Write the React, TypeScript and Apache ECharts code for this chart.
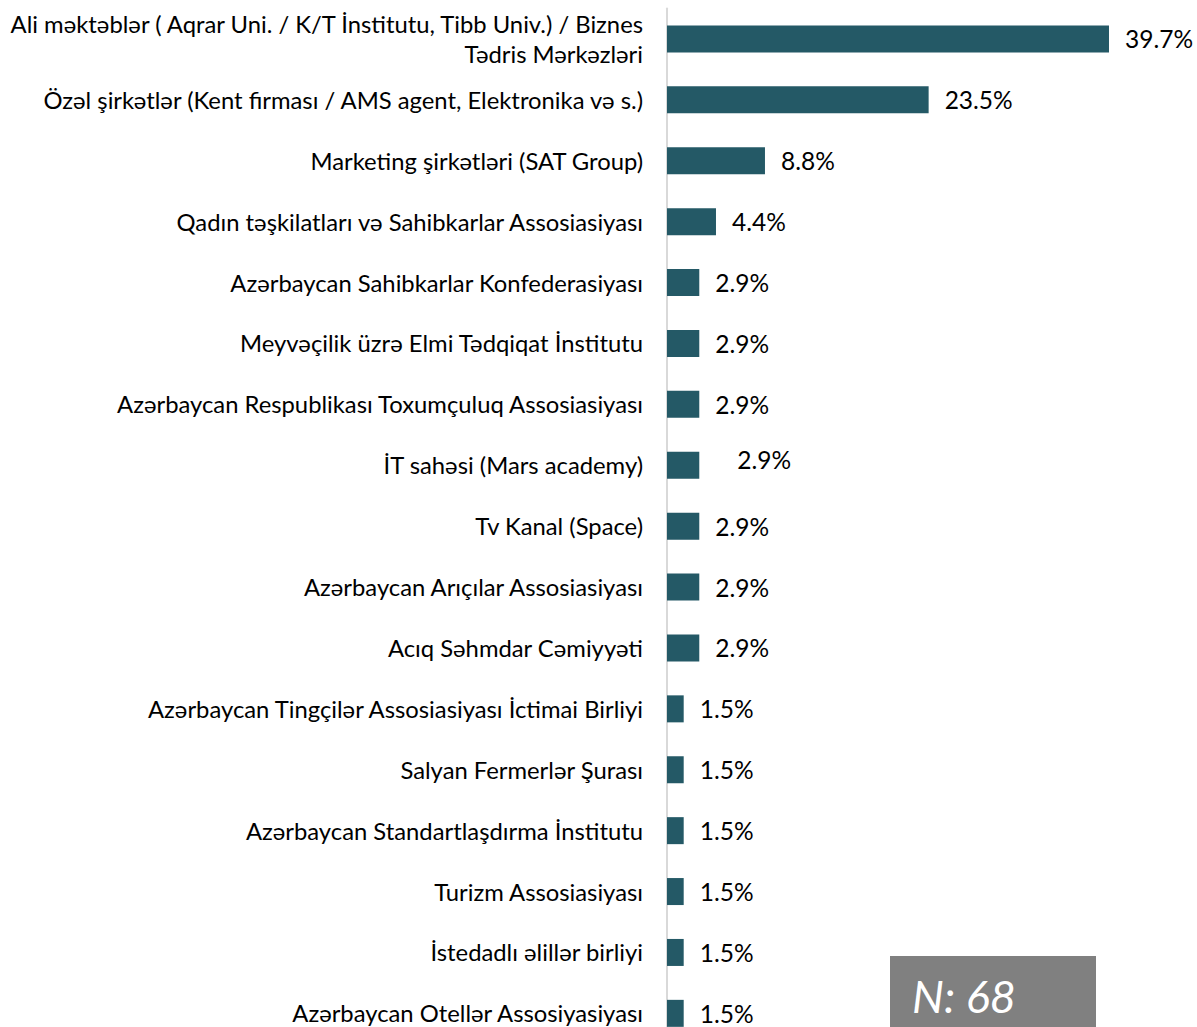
import React, { useEffect, useRef } from "react";
import * as echarts from "echarts";

const categories: string[] = [
  "Ali məktəblər ( Aqrar Uni. / K/T İnstitutu, Tibb Univ.) / Biznes\nTədris Mərkəzləri",
  "Özəl şirkətlər (Kent firması / AMS agent, Elektronika və s.)",
  "Marketing şirkətləri (SAT Group)",
  "Qadın təşkilatları və Sahibkarlar Assosiasiyası",
  "Azərbaycan Sahibkarlar Konfederasiyası",
  "Meyvəçilik üzrə Elmi Tədqiqat İnstitutu",
  "Azərbaycan Respublikası Toxumçuluq Assosiasiyası",
  "İT sahəsi (Mars academy)",
  "Tv Kanal (Space)",
  "Azərbaycan Arıçılar Assosiasiyası",
  "Acıq Səhmdar Cəmiyyəti",
  "Azərbaycan Tingçilər Assosiasiyası İctimai Birliyi",
  "Salyan Fermerlər Şurası",
  "Azərbaycan Standartlaşdırma İnstitutu",
  "Turizm Assosiasiyası",
  "İstedadlı əlillər birliyi",
  "Azərbaycan Otellər Assosiyasiyası",
];

const values: number[] = [39.7, 23.5, 8.8, 4.4, 2.9, 2.9, 2.9, 2.9, 2.9, 2.9, 2.9, 1.5, 1.5, 1.5, 1.5, 1.5, 1.5];

const sampleLabel = "N: 68";

const FONT = "Lato";

export default function App() {
  const ref = useRef<HTMLDivElement>(null);

  useEffect(() => {
    document.body.style.margin = "0";
    if (!ref.current) return;
    const chart = echarts.init(ref.current, undefined, { renderer: "svg" });
    const seriesData = values.map((v, i) =>
      i === 7 ? { value: v, label: { offset: [22, -6] } } : { value: v }
    );
    chart.setOption({
      animation: false,
      backgroundColor: "#ffffff",
      grid: { left: 667, top: 8.5, width: 501, height: 60.9 * categories.length },
      xAxis: {
        type: "value",
        min: 0,
        max: 45,
        show: false,
      },
      yAxis: {
        type: "category",
        inverse: true,
        data: categories,
        axisLine: { show: true, lineStyle: { color: "#d9d9d9", width: 2 } },
        axisTick: { show: false },
        axisLabel: {
          margin: 24,
          color: "#000000",
          fontFamily: FONT,
          fontSize: 23.8,
          lineHeight: 30,
          align: "right",
        },
      },
      series: [
        {
          type: "bar",
          data: seriesData,
          barWidth: 27,
          itemStyle: { color: "#245966" },
          label: {
            show: true,
            position: "right",
            distance: 16,
            color: "#000000",
            fontFamily: FONT,
            fontSize: 24.5,
            formatter: (p: any) => Number(p.value).toFixed(1) + "%",
          },
        },
      ],
      graphic: [
        {
          type: "rect",
          shape: { x: 890, y: 956, width: 206, height: 120 },
          style: { fill: "#808080" },
        },
        {
          type: "text",
          x: 912,
          y: 996,
          style: {
            text: sampleLabel,
            fill: "#ffffff",
            fontFamily: FONT,
            fontStyle: "italic",
            fontSize: 45,
            verticalAlign: "middle",
          },
        },
      ],
    });
    return () => chart.dispose();
  }, []);

  return (
    <div style={{ width: 1197, height: 1027, overflow: "hidden" }}>
      <div ref={ref} style={{ width: 1197, height: 1070 }} />
    </div>
  );
}
